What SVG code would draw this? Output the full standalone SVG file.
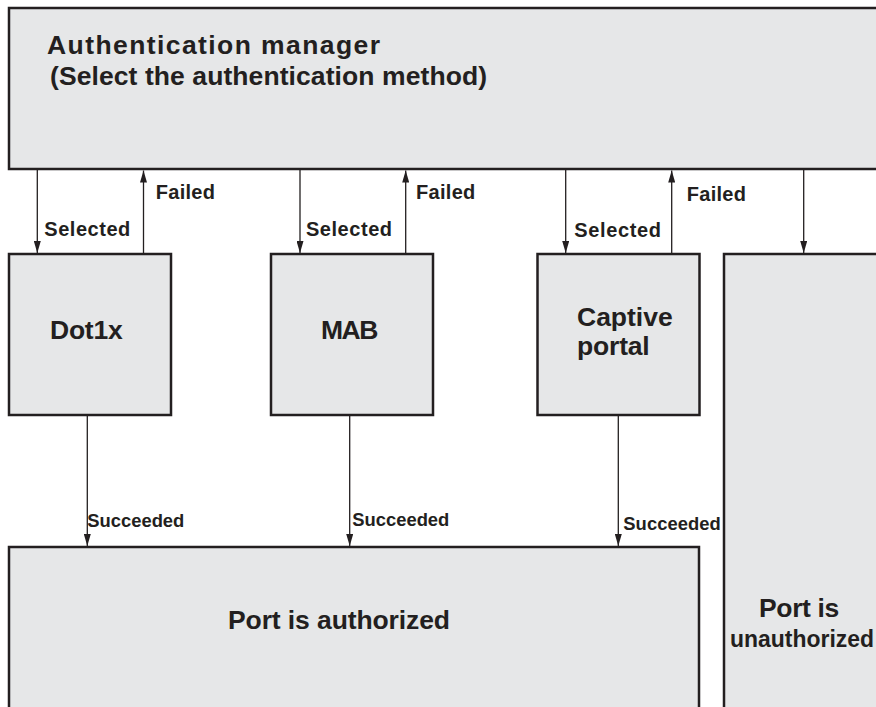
<svg xmlns="http://www.w3.org/2000/svg" width="876" height="707" viewBox="0 0 876 707">
<style>
.box{fill:#e6e7e8;stroke:#231f20;stroke-width:2.5}
.ln{stroke:#231f20;stroke-width:1.3;fill:none;marker-end:url(#ah)}
text{font-family:"Liberation Sans",Arial,Helvetica,sans-serif;font-weight:bold;fill:#231f20}
.big{font-size:26.5px}
.lbl{font-size:20px}
.sm{font-size:18.4px}
</style>
<defs>
<marker id="ah" viewBox="0 0 12 7" refX="12" refY="3.5" markerWidth="12" markerHeight="7" markerUnits="userSpaceOnUse" orient="auto">
<path d="M0,0 L12,3.5 L0,7 z" fill="#231f20"/>
</marker>
</defs>
<rect width="876" height="707" fill="#ffffff"/>
<g id="manager">
<rect class="box" x="9" y="8" width="880" height="161"/>
<text class="big" x="47" y="54" textLength="333" lengthAdjust="spacing">Authentication manager</text>
<text class="big" x="50" y="85" textLength="437" lengthAdjust="spacing">(Select the authentication method)</text>
</g>
<g id="dot1x">
<rect class="box" x="9" y="254" width="162" height="161"/>
<text class="big" x="50" y="339" textLength="72.7" lengthAdjust="spacing">Dot1x</text>
</g>
<g id="mab">
<rect class="box" x="271" y="254" width="162" height="161"/>
<text class="big" x="321" y="339" textLength="57.3" lengthAdjust="spacing">MAB</text>
</g>
<g id="captive">
<rect class="box" x="537.5" y="254" width="162" height="161"/>
<text class="big" x="577" y="326" textLength="95.7" lengthAdjust="spacing">Captive</text>
<text class="big" x="577" y="355" textLength="72.7" lengthAdjust="spacing">portal</text>
</g>
<g id="unauthorized">
<rect class="box" x="724" y="254" width="200" height="500"/>
<text class="big" x="759" y="617" textLength="80.3" lengthAdjust="spacing">Port is</text>
<text x="730" y="647" style="font-size:23px" textLength="144" lengthAdjust="spacingAndGlyphs">unauthorized</text>
</g>
<g id="authorized">
<rect class="box" x="9" y="547" width="690" height="200"/>
<text class="big" x="228" y="629" textLength="222" lengthAdjust="spacing">Port is authorized</text>
</g>
<g id="connectors">
<line class="ln" x1="37.3" y1="170" x2="37.3" y2="253"/>
<line class="ln" x1="143.5" y1="253" x2="143.5" y2="170.5"/>
<line class="ln" x1="300" y1="170" x2="300" y2="253"/>
<line class="ln" x1="405.7" y1="253" x2="405.7" y2="170.5"/>
<line class="ln" x1="565.7" y1="170" x2="565.7" y2="253"/>
<line class="ln" x1="671.7" y1="253" x2="671.7" y2="170.5"/>
<line class="ln" x1="803.7" y1="170" x2="803.7" y2="253"/>
<line class="ln" x1="87.3" y1="416" x2="87.3" y2="546"/>
<line class="ln" x1="349.7" y1="416" x2="349.7" y2="546"/>
<line class="ln" x1="618.3" y1="416" x2="618.3" y2="546"/>
<text class="lbl" x="44.3" y="236" textLength="86" lengthAdjust="spacing">Selected</text>
<text class="lbl" x="155.7" y="199" textLength="59.3" lengthAdjust="spacing">Failed</text>
<text class="lbl" x="306" y="236" textLength="86" lengthAdjust="spacing">Selected</text>
<text class="lbl" x="416" y="199" textLength="59.3" lengthAdjust="spacing">Failed</text>
<text class="lbl" x="574.3" y="237.3" textLength="86.7" lengthAdjust="spacing">Selected</text>
<text class="lbl" x="686.7" y="200.7" textLength="59.3" lengthAdjust="spacing">Failed</text>
<text class="sm" x="87.3" y="527.3" textLength="97" lengthAdjust="spacing">Succeeded</text>
<text class="sm" x="352.3" y="526" textLength="97" lengthAdjust="spacing">Succeeded</text>
<text class="sm" x="623.3" y="530" textLength="97.4" lengthAdjust="spacing">Succeeded</text>
</g>
</svg>
